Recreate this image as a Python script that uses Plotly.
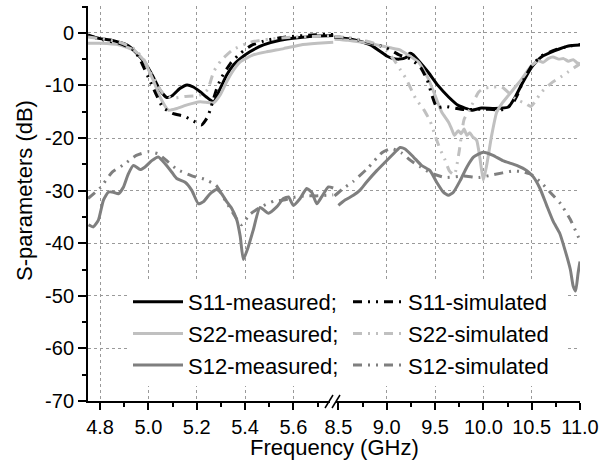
import plotly.graph_objects as go

# ---------------- data (frequency in GHz, S-parameters in dB) ----------------
# Left panel (4.75 - 5.77 GHz)
s11_meas_l_f = [4.75, 4.80, 4.855, 4.91, 4.95, 4.99, 5.02, 5.048, 5.076, 5.10, 5.13, 5.16, 5.186, 5.214, 5.24, 5.27, 5.297, 5.324, 5.352, 5.38, 5.42, 5.476, 5.545, 5.628, 5.70, 5.765]
s11_meas_l_db = [-0.6, -1.1, -1.5, -2.3, -3.8, -6.0, -8.4, -10.9, -12.3, -11.9, -10.6, -9.9, -10.3, -11.2, -12.2, -13.1, -10.6, -8.0, -6.1, -4.9, -3.6, -2.3, -1.4, -0.9, -0.6, -0.5]

s11_sim_l_f = [4.75, 4.80, 4.88, 4.94, 4.97, 5.00, 5.03, 5.06, 5.10, 5.15, 5.18, 5.22, 5.245, 5.26, 5.28, 5.30, 5.34, 5.38, 5.43, 5.49, 5.57, 5.68, 5.765]
s11_sim_l_db = [-0.4, -1.2, -2.0, -3.3, -5.5, -8.5, -11.5, -14.2, -15.3, -15.9, -16.6, -17.5, -16.0, -14.0, -11.0, -8.7, -5.8, -3.9, -2.3, -1.4, -0.8, -0.4, -0.3]

s22_meas_l_f = [4.75, 4.80, 4.88, 4.94, 4.98, 5.02, 5.048, 5.083, 5.117, 5.16, 5.214, 5.27, 5.297, 5.324, 5.352, 5.38, 5.434, 5.49, 5.56, 5.63, 5.70, 5.765]
s22_meas_l_db = [-2.0, -2.0, -2.3, -3.3, -5.2, -9.0, -12.2, -14.7, -14.4, -13.7, -13.1, -13.3, -11.8, -9.3, -7.1, -5.5, -4.2, -3.6, -3.0, -2.3, -2.0, -1.8]

s22_sim_l_f = [4.75, 4.80, 4.88, 4.94, 4.98, 5.02, 5.06, 5.10, 5.15, 5.21, 5.245, 5.27, 5.30, 5.35, 5.42, 5.50, 5.60, 5.765]
s22_sim_l_db = [-0.8, -1.1, -1.8, -3.0, -5.0, -8.5, -11.5, -12.4, -12.1, -11.9, -10.8, -7.4, -5.3, -3.2, -1.8, -1.2, -0.8, -0.6]

s12_meas_l_f = [4.752, 4.772, 4.793, 4.814, 4.834, 4.855, 4.876, 4.897, 4.917, 4.938, 4.966, 4.986, 5.014, 5.041, 5.069, 5.097, 5.117, 5.152, 5.179, 5.207, 5.228, 5.255, 5.283, 5.303, 5.324, 5.345, 5.366, 5.38, 5.393, 5.414, 5.434, 5.462, 5.497, 5.531, 5.559, 5.58, 5.60, 5.628, 5.655, 5.676, 5.697, 5.717, 5.745, 5.765]
s12_meas_l_db = [-36.5, -36.9, -35.6, -31.8, -30.3, -30.3, -30.6, -29.3, -26.8, -25.2, -26.0, -25.5, -24.3, -23.6, -24.9, -26.5, -27.7, -28.4, -29.9, -32.5, -32.1, -30.6, -29.8, -30.6, -32.1, -33.4, -35.6, -38.7, -43.1, -40.6, -37.5, -33.2, -34.3, -33.1, -31.5, -31.2, -32.8, -31.5, -29.6, -30.3, -32.5, -31.2, -29.3, -29.5]

s12_sim_l_f = [4.75, 4.80, 4.85, 4.90, 4.95, 5.00, 5.04, 5.08, 5.12, 5.18, 5.23, 5.28, 5.32, 5.36, 5.385, 5.42, 5.47, 5.52, 5.56, 5.60, 5.65, 5.70, 5.765]
s12_sim_l_db = [-31.5, -29.5, -26.5, -25.0, -23.3, -22.6, -23.0, -24.5, -26.0, -27.2, -27.8, -29.0, -32.0, -35.0, -36.5, -34.5, -33.0, -32.0, -31.8, -31.3, -31.0, -31.0, -30.8]

# Right panel (8.5 - 11.0 GHz)
s11_meas_r_f = [8.46, 8.60, 8.72, 8.83, 8.93, 9.00, 9.05, 9.13, 9.20, 9.237, 9.27, 9.33, 9.43, 9.53, 9.64, 9.74, 9.88, 9.98, 10.12, 10.26, 10.33, 10.40, 10.50, 10.60, 10.74, 10.88, 11.0]
s11_meas_r_db = [-0.9, -1.1, -1.6, -2.3, -3.5, -4.4, -4.8, -5.0, -4.7, -3.9, -4.1, -5.3, -7.5, -10.0, -12.2, -13.8, -14.7, -14.3, -14.4, -14.1, -12.2, -9.7, -6.5, -4.6, -3.4, -2.5, -2.3]

s11_sim_r_f = [8.46, 8.60, 8.75, 8.90, 9.00, 9.13, 9.25, 9.35, 9.42, 9.47, 9.52, 9.60, 9.80, 10.0, 10.2, 10.3, 10.36, 10.42, 10.50, 10.60, 10.75, 10.90, 11.0]
s11_sim_r_db = [-0.8, -1.0, -1.5, -2.3, -2.9, -4.2, -5.0, -6.6, -9.0, -12.0, -14.2, -14.0, -14.6, -14.5, -14.6, -13.5, -11.5, -8.8, -6.3, -4.4, -3.2, -2.5, -2.2]

s22_meas_r_f = [8.46, 8.60, 8.75, 8.85, 8.95, 9.05, 9.13, 9.22, 9.33, 9.43, 9.50, 9.57, 9.64, 9.67, 9.70, 9.74, 9.77, 9.80, 9.83, 9.86, 9.89, 9.93, 9.965, 10.0, 10.034, 10.086, 10.138, 10.19, 10.26, 10.33, 10.40, 10.50, 10.57, 10.62, 10.67, 10.72, 10.78, 10.83, 10.88, 10.93, 10.97, 11.0]
s22_meas_r_db = [-1.2, -1.4, -1.8, -2.1, -2.5, -2.9, -3.2, -4.2, -5.6, -8.7, -11.9, -15.1, -17.0, -18.2, -19.5, -18.6, -19.2, -18.3, -19.5, -19.0, -19.8, -20.4, -23.9, -28.0, -25.2, -19.5, -15.1, -13.5, -11.9, -10.3, -8.7, -6.2, -5.3, -5.6, -4.9, -4.6, -5.0, -4.9, -5.4, -5.1, -5.7, -5.9]

s22_sim_r_f = [8.46, 8.60, 8.75, 8.90, 9.00, 9.07, 9.14, 9.20, 9.30, 9.38, 9.45, 9.50, 9.55, 9.60, 9.65, 9.70, 9.75, 9.80, 9.86, 9.95, 10.0, 10.1, 10.19, 10.33, 10.45, 10.49, 10.53, 10.60, 10.70, 10.80, 10.88, 10.95, 11.0]
s22_sim_r_db = [-0.7, -0.9, -1.4, -2.2, -3.5, -5.0, -7.0, -8.7, -12.5, -14.5, -16.8, -19.5, -22.0, -24.0, -26.3, -27.0, -22.5, -16.5, -14.5, -11.3, -10.6, -10.3, -10.3, -12.5, -13.6, -14.0, -13.2, -11.3, -9.6, -8.4, -7.4, -6.5, -5.9]

s12_meas_r_f = [8.50, 8.569, 8.655, 8.724, 8.79, 8.897, 8.983, 9.07, 9.138, 9.19, 9.276, 9.36, 9.448, 9.517, 9.586, 9.638, 9.69, 9.76, 9.83, 9.90, 10.0, 10.1, 10.2, 10.345, 10.45, 10.517, 10.586, 10.655, 10.724, 10.79, 10.845, 10.90, 10.93, 10.955, 10.98, 11.0]
s12_meas_r_db = [-32.8, -31.8, -30.9, -29.9, -28.4, -26.2, -24.6, -23.0, -21.8, -22.1, -23.6, -25.2, -26.2, -28.4, -30.3, -30.9, -30.3, -28.1, -25.5, -23.6, -22.7, -23.3, -24.3, -25.2, -26.2, -27.4, -29.6, -32.8, -35.9, -38.1, -41.3, -45.0, -48.2, -49.1, -45.7, -43.5]

s12_sim_r_f = [8.46, 8.55, 8.65, 8.80, 8.95, 9.05, 9.15, 9.25, 9.35, 9.45, 9.60, 9.80, 9.95, 10.1, 10.3, 10.4, 10.5, 10.6, 10.7, 10.8, 10.9, 11.0]
s12_sim_r_db = [-31.0, -29.6, -28.3, -25.8, -22.8, -22.0, -22.8, -24.3, -25.5, -26.6, -27.5, -27.2, -27.5, -27.0, -26.3, -26.4, -27.0, -28.5, -30.5, -32.5, -35.5, -39.5]

series_names = ["S11-measured;", "S11-simulated", "S22-measured;", "S22-simulated", "S12-measured;", "S12-simulated"]
y_tick_vals = [0, -10, -20, -30, -40, -50, -60, -70]
y_tick_text = ["0", "-10", "-20", "-30", "-40", "-50", "-60", "-70"]
x_left_ticks = [4.8, 5.0, 5.2, 5.4, 5.6]
x_left_text = ["4.8", "5.0", "5.2", "5.4", "5.6"]
x_right_ticks = [8.5, 9.0, 9.5, 10.0, 10.5, 11.0]
x_right_text = ["8.5", "9.0", "9.5", "10.0", "10.5", "11.0"]
x_right_grid = [9.0, 9.5, 10.0, 10.5]

# ---------------- styling ----------------
FONT = "Arial, Liberation Sans, sans-serif"
C11, C22, C12 = "#000000", "#c0c0c0", "#7f7f7f"
DASHDOT = "9px,6px,2px,6px,2px,6px"
LW = 3

fig = go.Figure()

series = [
    (series_names[0], s11_meas_l_f, s11_meas_l_db, s11_meas_r_f, s11_meas_r_db, C11, "solid", 1),
    (series_names[2], s22_meas_l_f, s22_meas_l_db, s22_meas_r_f, s22_meas_r_db, C22, "solid", 3),
    (series_names[4], s12_meas_l_f, s12_meas_l_db, s12_meas_r_f, s12_meas_r_db, C12, "solid", 5),
    (series_names[1], s11_sim_l_f, s11_sim_l_db, s11_sim_r_f, s11_sim_r_db, C11, DASHDOT, 2),
    (series_names[3], s22_sim_l_f, s22_sim_l_db, s22_sim_r_f, s22_sim_r_db, C22, DASHDOT, 4),
    (series_names[5], s12_sim_l_f, s12_sim_l_db, s12_sim_r_f, s12_sim_r_db, C12, DASHDOT, 6),
]

for name, lf, ldb, rf, rdb, col, dash, rank in series:
    line = dict(color=col, width=LW, dash=dash, shape="spline", smoothing=0.5)
    fig.add_trace(go.Scatter(x=lf, y=ldb, mode="lines", name=name, line=line,
                             legendgroup=name, legendrank=rank, xaxis="x", yaxis="y"))
    fig.add_trace(go.Scatter(x=rf, y=rdb, mode="lines", name=name, line=line,
                             legendgroup=name, showlegend=False, xaxis="x2", yaxis="y"))

# ---------------- layout ----------------
W, H = 607, 461
ML, MR, MT, MB = 88, 27, 6, 60
PW, PH = W - ML - MR, H - MT - MB
split = (334 - ML) / PW

def px2paper_x(px):
    return (px - ML) / PW

def px2paper_y(py):
    return (H - MB - py) / PH

grid = dict(showgrid=True, gridcolor="#9a9a9a", gridwidth=1, griddash="dot")
axfont = dict(family=FONT, size=20, color="black")

fig.update_layout(
    width=W, height=H,
    margin=dict(l=ML, r=MR, t=MT, b=MB),
    paper_bgcolor="white", plot_bgcolor="white",
    font=dict(family=FONT, size=20, color="black"),
    showlegend=True,
    legend=dict(orientation="h", x=px2paper_x(128), y=px2paper_y(281), xanchor="left", yanchor="top",
                bgcolor="white", borderwidth=0, itemwidth=50, entrywidth=155,
                font=dict(family=FONT, size=22, color="black"), traceorder="normal",
                itemclick=False),
    xaxis=dict(domain=[0, split], range=[4.75, 4.75 + (334 - ML) / 241.6],
               tickmode="array", tickvals=x_left_ticks, ticktext=x_left_text,
               ticks="outside", ticklen=7, tickwidth=1.5, tickcolor="black",
               minor=dict(tickmode="array", tickvals=[4.9, 5.1, 5.3, 5.5, 5.7], ticks="outside", ticklen=4, tickwidth=1.5, tickcolor="black", showgrid=False),
               showline=True, linecolor="black", linewidth=2, zeroline=False,
               tickfont=axfont, anchor="y", **grid),
    xaxis2=dict(domain=[split, 1], range=[8.5 - (338.4 - 334) / 96.65, 11.0],
                tickmode="array", tickvals=x_right_ticks, ticktext=x_right_text,
                ticks="outside", ticklen=7, tickwidth=1.5, tickcolor="black",
                minor=dict(tickmode="array", tickvals=[8.75, 9.25, 9.75, 10.25, 10.75], ticks="outside", ticklen=4, tickwidth=1.5, tickcolor="black", showgrid=False),
                showline=True, linecolor="black", linewidth=2, zeroline=False,
                showgrid=False, tickfont=axfont, anchor="y"),
    xaxis3=dict(overlaying="x2", matches="x2", tickmode="array", tickvals=x_right_grid,
                showticklabels=False, ticks="", showline=False, zeroline=False,
                anchor="y", **grid),
    yaxis=dict(range=[-70, 5.1], tickmode="array", tickvals=y_tick_vals, ticktext=y_tick_text,
               ticks="outside", ticklen=8, tickwidth=1.5, tickcolor="black",
               minor=dict(dtick=5, tick0=-5, ticks="outside", ticklen=4, tickwidth=1.5, tickcolor="black", showgrid=False),
               showline=True, linecolor="black", linewidth=2, zeroline=False,
               tickfont=axfont, anchor="x", **grid),
)

# dummy trace so xaxis3 grid is drawn
fig.add_trace(go.Scatter(x=[9.0], y=[None], xaxis="x3", yaxis="y", showlegend=False,
                         hoverinfo="skip", mode="lines"))

# axis titles
fig.add_annotation(text="Frequency (GHz)", xref="paper", yref="paper",
                   x=0.5, y=px2paper_y(447), xanchor="center", yanchor="middle",
                   showarrow=False, font=dict(family=FONT, size=22, color="black"))
fig.add_annotation(text="S-parameters (dB)", xref="paper", yref="paper",
                   x=px2paper_x(24), y=px2paper_y(191), xanchor="center", yanchor="middle",
                   textangle=-90, showarrow=False, font=dict(family=FONT, size=22, color="black"))

# axis break marks
fig.add_shape(type="rect", xref="paper", yref="paper",
              x0=px2paper_x(330), x1=px2paper_x(336), y0=px2paper_y(403), y1=px2paper_y(399),
              fillcolor="white", line=dict(width=0), layer="above")
for dx in (0, 7):
    fig.add_shape(type="line", xref="paper", yref="paper",
                  x0=px2paper_x(325 + dx), y0=px2paper_y(408),
                  x1=px2paper_x(333 + dx), y1=px2paper_y(395),
                  line=dict(color="black", width=1.5), layer="above")

fig.write_html("out.html", config={"displayModeBar": False},
               post_script="document.body.style.margin='0';document.body.style.overflow='hidden';")
